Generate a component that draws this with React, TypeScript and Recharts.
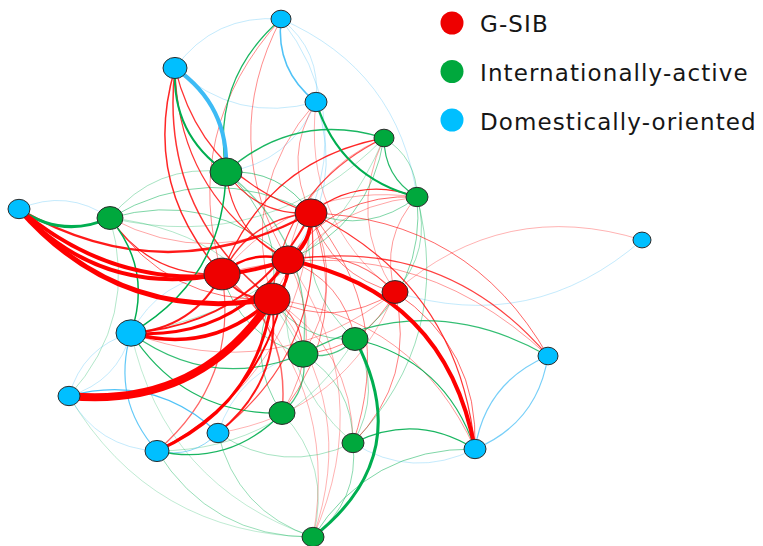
import React from 'react';
import { ScatterChart, Scatter, XAxis, YAxis, Legend } from 'recharts';

const groupNames = ['G-SIB', 'Internationally-active', 'Domestically-oriented'];
const groupColors = ['#EE0000', '#00A83D', '#00BFFF'];
const edgeColors = ['#FF0000', '#00AE50', '#3DBBF5'];

const nodeIds = ['R1', 'R2', 'R3', 'R4', 'R5', 'G1', 'G2', 'G3', 'G4', 'G5', 'G6', 'G7', 'G8', 'G9', 'B1', 'B2', 'B3', 'B4', 'B5', 'B6', 'B7', 'B8', 'B9', 'B10', 'B11'];
const nodeX = [311, 288, 222, 272, 395, 226, 384, 417, 110, 303, 355, 282, 353, 313, 281, 175, 316, 19, 642, 131, 69, 548, 218, 157, 475];
const nodeY = [213, 260, 274, 299, 292, 172, 138, 197, 218, 354, 339, 413, 443, 537, 19, 68, 102, 209, 240, 333, 396, 356, 433, 451, 449];
const nodeGroup = [0, 0, 0, 0, 0, 1, 1, 1, 1, 1, 1, 1, 1, 1, 2, 2, 2, 2, 2, 2, 2, 2, 2, 2, 2];
const nodeSize = [16, 16, 18, 18, 13, 16, 10, 11, 13, 15, 13, 13, 11, 11, 10, 12, 11, 11, 9, 15, 11, 10, 11, 12, 11];

// source, target, weight (stroke width), visibility, optional curvature
const edgeList: [string, string, number, number, number?][] = [
  ['R4', 'B7', 8, 1, 0.3], ['R4', 'B4', 5, 1], ['R3', 'B4', 4, 1], ['R2', 'B4', 4, 1], ['R1', 'B4', 2.5, 0.9],
  ['R4', 'B6', 3.5, 1], ['R2', 'B6', 3, 1], ['R1', 'B6', 2, 0.9], ['R3', 'B6', 2, 0.9],
  ['R4', 'B10', 3, 1], ['R2', 'B10', 2, 1], ['R4', 'B9', 2, 0.9], ['R1', 'B9', 1.2, 0.7],
  ['R2', 'B11', 4, 1, 0.34], ['R1', 'B11', 1.2, 0.8], ['R5', 'B11', 1, 0.6],
  ['R1', 'R2', 4, 1], ['R2', 'R4', 3, 1], ['R3', 'R2', 2.5, 1], ['R4', 'R3', 2, 0.9],
  ['R3', 'B2', 1.5, 0.85], ['R4', 'B2', 1.5, 0.8], ['R2', 'B2', 1.2, 0.8], ['R1', 'B2', 1.2, 0.8],
  ['R3', 'G2', 1.3, 0.85], ['R4', 'G2', 1.2, 0.7], ['R1', 'G3', 1.3, 0.85], ['R2', 'G3', 1, 0.6],
  ['R2', 'B8', 1.2, 0.75], ['R1', 'B8', 1, 0.6], ['R3', 'G4', 1.3, 0.85], ['R4', 'G4', 1, 0.6],
  ['R2', 'G1', 1.2, 0.8], ['R1', 'G1', 1.2, 0.8], ['R3', 'R1', 1.5, 0.8], ['R3', 'B10', 1.2, 0.6],
  ['R2', 'R5', 1.2, 0.6], ['R4', 'G5', 1.2, 0.6], ['R3', 'G7', 1.5, 0.6],
  ['R3', 'B1', 1, 0.45], ['R2', 'B1', 1, 0.45], ['R4', 'B3', 1, 0.4], ['R1', 'B3', 1, 0.4],
  ['R3', 'B8', 1, 0.4], ['R5', 'B5', 1, 0.3], ['R5', 'R1', 1, 0.5], ['R2', 'G6', 1, 0.5],
  ['R1', 'G7', 1, 0.5], ['R5', 'G8', 1, 0.5], ['R1', 'G8', 1, 0.5], ['R5', 'G5', 1, 0.5],
  ['R4', 'G9', 1, 0.3], ['R2', 'G9', 1, 0.3], ['R5', 'R4', 1, 0.5], ['R4', 'B11', 1, 0.4],
  ['R5', 'B6', 1, 0.35], ['R5', 'B3', 1, 0.3], ['R3', 'G3', 1, 0.35], ['R4', 'G3', 1, 0.35],
  ['R2', 'G2', 1, 0.35], ['R1', 'G4', 1, 0.35], ['R4', 'G8', 1, 0.35], ['R3', 'G9', 1, 0.3],
  ['R2', 'G7', 1, 0.4], ['R1', 'G5', 1, 0.4], ['R1', 'B10', 1, 0.35], ['R5', 'B9', 1, 0.3],
  ['R5', 'G3', 1, 0.4], ['R5', 'G2', 1, 0.35],
  ['G4', 'B4', 3, 1], ['G1', 'B2', 2, 1], ['G1', 'B1', 1.3, 0.9], ['G1', 'G2', 1.5, 0.9],
  ['G3', 'B3', 2.2, 1], ['G3', 'G2', 1.2, 0.85], ['G4', 'B6', 1.5, 1], ['G1', 'B6', 1.5, 1],
  ['G5', 'B6', 1.2, 0.8], ['G7', 'B6', 1.3, 0.9], ['G6', 'G9', 3, 1, 0.42], ['G6', 'B11', 1.2, 0.9],
  ['G8', 'B11', 1.2, 0.9], ['G5', 'B8', 1.2, 0.8], ['G7', 'B10', 1.3, 0.9], ['G5', 'G7', 1.2, 0.7],
  ['G6', 'G5', 1.2, 0.7],
  ['G2', 'G3', 1, 0.4], ['G9', 'B11', 1, 0.5], ['G4', 'G1', 1, 0.35], ['G4', 'R1', 1, 0.5],
  ['G4', 'R2', 1, 0.5], ['G4', 'G5', 1, 0.3], ['G9', 'B10', 1, 0.4], ['G9', 'B9', 1, 0.4],
  ['G9', 'B7', 1, 0.25], ['G8', 'B9', 1, 0.35], ['G7', 'G9', 1, 0.3], ['G8', 'G9', 1, 0.45],
  ['G6', 'G8', 1, 0.4], ['G5', 'G8', 1, 0.4], ['G1', 'G5', 1.2, 0.5], ['G3', 'G6', 1, 0.5],
  ['G3', 'G8', 1, 0.4], ['G2', 'R2', 1, 0.5], ['G3', 'R1', 1, 0.5], ['G1', 'R1', 1, 0.6],
  ['G1', 'R4', 1, 0.5], ['G6', 'R4', 1, 0.5], ['G5', 'R3', 1, 0.5], ['G7', 'R4', 1, 0.5],
  ['G8', 'R2', 1, 0.3], ['G6', 'B10', 1, 0.3], ['G4', 'B7', 1, 0.3], ['G2', 'B6', 1, 0.3],
  ['G2', 'G4', 1, 0.3], ['G9', 'B6', 1, 0.25], ['G3', 'R5', 1, 0.4], ['G6', 'R1', 1, 0.4],
  ['B2', 'G1', 4, 1], ['B3', 'B1', 1.5, 0.9], ['B3', 'B2', 1, 0.3], ['B2', 'B1', 1, 0.3],
  ['B1', 'B3', 1, 0.3], ['B4', 'G4', 1, 0.3], ['B7', 'B9', 1.2, 0.9], ['B10', 'B6', 1.2, 0.8],
  ['B10', 'B7', 1, 0.3], ['B7', 'B6', 1, 0.3], ['B9', 'B10', 1, 0.6], ['B8', 'B11', 1.2, 0.7],
  ['B11', 'B8', 1.2, 0.7], ['B5', 'R5', 1, 0.3], ['B1', 'G3', 1, 0.3], ['B1', 'R1', 1, 0.3],
  ['B3', 'R2', 1, 0.35], ['B3', 'G1', 1, 0.3], ['B6', 'R3', 1, 0.3], ['B9', 'G5', 1, 0.3],
  ['B11', 'G8', 1, 0.3], ['B6', 'B7', 1, 0.3],
];

const BEND = 0.28;
const W = 763;
const H = 546;

const idx = (id: string) => nodeIds.indexOf(id);

const nodesByGroup = groupNames.map((_, g) =>
  nodeIds
    .map((id, i) => ({ id, x: nodeX[i], y: nodeY[i], r: nodeSize[i], g: nodeGroup[i] }))
    .filter((n) => n.g === g)
);

const edgeData = edgeList
  .map(([s, t, w, a, b]) => {
    const si = idx(s);
    const ti = idx(t);
    return {
      key: `${s}-${t}`,
      w,
      a,
      bend: b ?? BEND,
      color: edgeColors[nodeGroup[si]],
      points: [
        { x: nodeX[si], y: nodeY[si] },
        { x: nodeX[ti], y: nodeY[ti] },
      ],
    };
  })
  .sort((p, q) => p.a - q.a || p.w - q.w);

const makeEdgeLine = (e: { color: string; w: number; a: number; bend: number }) => (props: any) => {
  const pts = props.points;
  if (!pts || pts.length < 2) return null;
  const p = pts[0];
  const q = pts[1];
  const dx = q.x - p.x;
  const dy = q.y - p.y;
  const cx = (p.x + q.x) / 2 + e.bend * dy;
  const cy = (p.y + q.y) / 2 - e.bend * dx;
  return (
    <path
      d={`M${p.x},${p.y} Q${cx},${cy} ${q.x},${q.y}`}
      fill="none"
      stroke={e.color}
      strokeWidth={e.w}
      strokeOpacity={e.a}
      strokeLinecap="round"
    />
  );
};

const noShape = () => <g />;

const makeNodeShape = (color: string) => (props: any) => (
  <ellipse
    cx={props.cx}
    cy={props.cy}
    rx={props.payload.r}
    ry={props.payload.r * 0.88}
    fill={color}
    stroke="#2b2b2b"
    strokeWidth={1}
  />
);

const renderLegend = () => (
  <svg width={330} height={140}>
    {groupNames.map((name, i) => (
      <g key={name}>
        <circle cx={22} cy={23 + i * 48.5} r={11.5} fill={groupColors[i]} />
        <text
          x={50}
          y={32 + i * 49}
          fontFamily="DejaVu Sans"
          fontSize={23}
          letterSpacing={1.1}
          fill="#161616"
        >
          {name}
        </text>
      </g>
    ))}
  </svg>
);

export default function App() {
  return (
    <div style={{ position: 'absolute', left: 0, top: 0, width: W, height: H, background: '#fff' }}>
      <ScatterChart width={W} height={H} margin={{ top: 0, right: 0, bottom: 0, left: 0 }}>
        <XAxis type="number" dataKey="x" domain={[0, W]} hide />
        <YAxis type="number" dataKey="y" domain={[0, H]} reversed hide />
        {edgeData.map((e) => (
          <Scatter
            key={e.key}
            data={e.points}
            line={makeEdgeLine(e)}
            shape={noShape}
            legendType="none"
            isAnimationActive={false}
          />
        ))}
        {nodesByGroup.map((nodes, g) => (
          <Scatter
            key={groupNames[g]}
            name={groupNames[g]}
            data={nodes}
            fill={groupColors[g]}
            shape={makeNodeShape(groupColors[g])}
            isAnimationActive={false}
          />
        ))}
        <Legend
          layout="vertical"
          align="center"
          verticalAlign="middle"
          content={renderLegend}
          wrapperStyle={{ left: 430, top: 0, width: 333, height: 140 }}
        />
      </ScatterChart>
    </div>
  );
}
